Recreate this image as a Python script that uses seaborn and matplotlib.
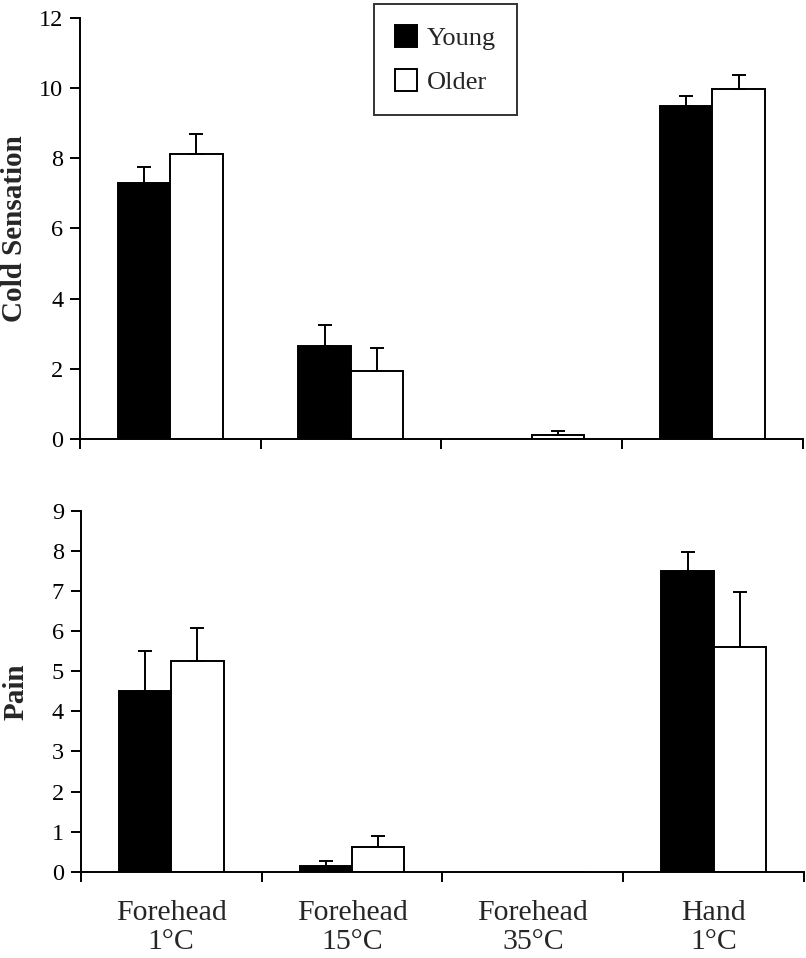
import numpy as np
import pandas as pd
import matplotlib
matplotlib.use("Agg")
import matplotlib.pyplot as plt
import seaborn as sns
from matplotlib.patches import Patch

# data
sites = ["Forehead\n1°C", "Forehead\n15°C", "Forehead\n35°C", "Hand\n1°C"]
groups = ["Young", "Older"]

cold_young = [7.3, 2.65, 0.0, 9.5]
cold_older = [8.12, 1.93, 0.1, 9.97]
cold_young_err = [0.45, 0.6, 0.0, 0.27]
cold_older_err = [0.58, 0.67, 0.12, 0.41]

pain_young = [4.5, 0.15, 0.0, 7.5]
pain_older = [5.25, 0.62, 0.0, 5.6]
pain_young_err = [1.0, 0.13, 0.0, 0.47]
pain_older_err = [0.82, 0.26, 0.0, 1.37]

sns.set_style("white")
plt.rcParams['font.family'] = ['Liberation Serif', 'DejaVu Serif']

fig = plt.figure(figsize=(8.06, 9.58), dpi=100)
ax1 = fig.add_axes([0.099, 0.542, 0.897, 0.439])
ax2 = fig.add_axes([0.100, 0.090, 0.898, 0.377])

palette = {"Young": "black", "Older": "white"}


def panel(ax, young, older, yerr_y, yerr_o, ylabel, ymax, step):
    df = pd.DataFrame({
        "site": sites * 2,
        "group": ["Young"] * 4 + ["Older"] * 4,
        "value": young + older,
    })
    sns.barplot(data=df, x="site", y="value", hue="group", order=sites,
                hue_order=groups, palette=palette, width=0.58,
                edgecolor="black", linewidth=1.4, errorbar=None,
                legend=False, ax=ax)
    errs = yerr_y + yerr_o
    vals = young + older
    for p, v, e in zip(ax.patches, vals, errs):
        if e <= 0:
            continue
        xc = p.get_x() + p.get_width() / 2
        ax.errorbar(xc, v, yerr=[[0], [e]], fmt="none", ecolor="black",
                    elinewidth=1.4, capsize=5, capthick=1.4, zorder=3)
    ax.set_xlim(-0.5, 3.5)
    ax.set_ylim(0, ymax)
    ax.set_yticks(np.arange(0, ymax + 0.01, step))
    ax.set_xticks(np.arange(-0.5, 4.0, 1.0))
    ax.set_xticklabels([])
    ax.set_xlabel("")
    ax.set_ylabel(ylabel, fontsize=21, fontweight="bold")
    ax.yaxis.set_label_coords(-0.071, 0.5)
    sns.despine(ax=ax)
    for s in ["left", "bottom"]:
        ax.spines[s].set_color("black")
        ax.spines[s].set_linewidth(1.4)
    ax.tick_params(axis="both", direction="out", length=7, width=1.4,
                   colors="black", labelsize=17.5, left=True, bottom=True)
    ax.tick_params(axis="y", pad=5)


panel(ax1, cold_young, cold_older, cold_young_err, cold_older_err,
      "Cold Sensation", 12, 2)
panel(ax2, pain_young, pain_older, pain_young_err, pain_older_err,
      "Pain", 9, 1)

# category labels centred under each pair
ax2.set_xticks(range(len(sites)), minor=True)
ax2.set_xticklabels(sites, minor=True, fontsize=21.5, linespacing=1.18)
ax2.tick_params(axis="x", which="minor", length=0, pad=20)

handles = [Patch(facecolor=palette[g], edgecolor="black", linewidth=1.4, label=g)
           for g in groups]
leg = ax1.legend(handles=handles, loc="upper left",
                 bbox_to_anchor=(0.4065, 1.033), fontsize=19, frameon=True,
                 fancybox=False, edgecolor="black", handlelength=0.85,
                 handleheight=0.9, handletextpad=0.35, labelspacing=0.7,
                 borderpad=0.8, borderaxespad=0)
leg.get_frame().set_linewidth(1.4)

fig.savefig("out.png", dpi=100)
